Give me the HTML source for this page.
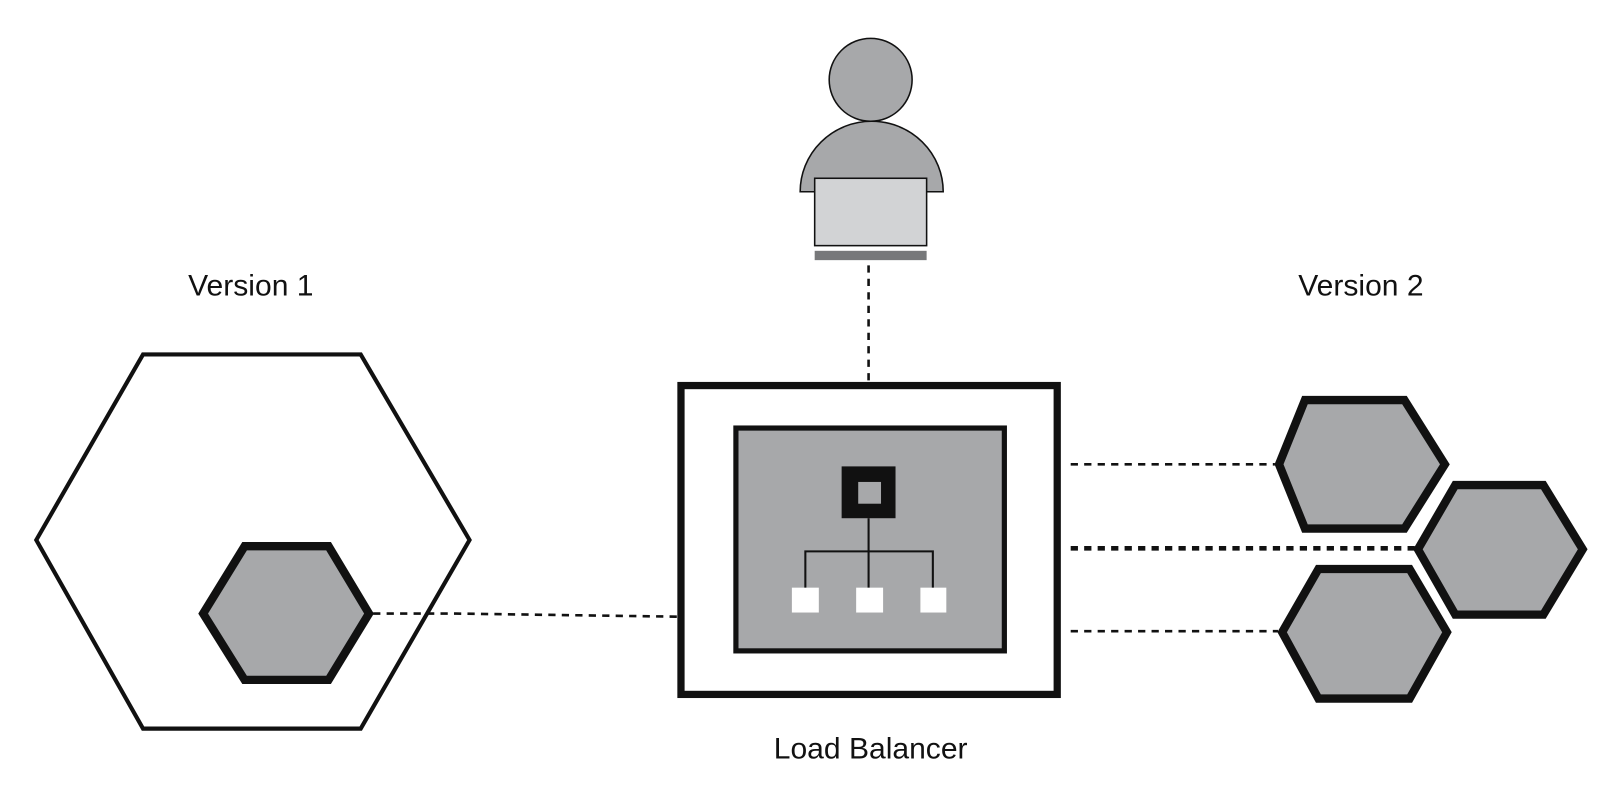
<!DOCTYPE html>
<html><head><style>body{margin:0;background:#fff}</style></head><body>
<svg width="1619" height="805" viewBox="0 0 1562 776.7" preserveAspectRatio="none" xmlns="http://www.w3.org/2000/svg" style="display:block">
<rect width="1562" height="777" fill="#fff"/>
<g font-family="Liberation Sans, sans-serif" font-size="29" fill="#111" text-anchor="middle">
<text x="242" y="285">Version 1</text>
<text x="1313" y="285">Version 2</text>
<text x="840" y="732">Load Balancer</text>
</g>
<!-- person -->
<path d="M772,185 A69,68 0 0 1 910,185 Z" fill="#a7a8aa" stroke="#111" stroke-width="1.5"/>
<circle cx="840" cy="77" r="40" fill="#a7a8aa" stroke="#111" stroke-width="1.5"/>
<rect x="786" y="172" width="108" height="65" fill="#d2d3d5" stroke="#111" stroke-width="1.5"/>
<rect x="786" y="242" width="108" height="9" fill="#77787a"/>
<!-- dashed lines -->
<g stroke="#111" stroke-dasharray="7,6" fill="none">
<line x1="838" y1="256" x2="838" y2="368" stroke-width="2.5"/>
<polyline points="360,592 440,592 655,595" stroke-width="2.5"/>
<line x1="1033" y1="448" x2="1230" y2="448" stroke-width="2.5"/>
<line x1="1033" y1="529" x2="1365" y2="529" stroke-width="4.5"/>
<line x1="1033" y1="609" x2="1233" y2="609" stroke-width="2.5"/>
</g>
<!-- hexes -->
<polygon points="35,521 138,342 348,342 453,521 348,703 138,703" fill="none" stroke="#111" stroke-width="4"/>
<polygon points="196,592 236,527 317,527 356,592 317,656 236,656" fill="#a7a8aa" stroke="#111" stroke-width="8"/>
<polygon points="1234,448 1259,386 1355,386 1394,448 1355,510 1259,510" fill="#a7a8aa" stroke="#111" stroke-width="8"/>
<polygon points="1368,530 1404,468 1489,468 1527,530 1489,593 1404,593" fill="#a7a8aa" stroke="#111" stroke-width="8"/>
<polygon points="1237,610 1272,549 1360,549 1396,610 1360,674 1272,674" fill="#a7a8aa" stroke="#111" stroke-width="8"/>
<!-- load balancer -->
<rect x="657" y="372" width="363" height="298" fill="#fff" stroke="#111" stroke-width="7"/>
<rect x="710" y="413" width="259" height="215" fill="#a7a8aa" stroke="#111" stroke-width="5"/>
<rect x="812" y="450" width="52" height="50" fill="#111"/>
<rect x="828" y="465" width="22" height="21" fill="#a7a8aa"/>
<g stroke="#111" stroke-width="2" fill="none">
<line x1="838" y1="500" x2="838" y2="568"/>
<polyline points="777,568 777,532 900,532 900,568"/>
</g>
<rect x="764" y="567" width="26" height="24" fill="#fff"/>
<rect x="826" y="567" width="26" height="24" fill="#fff"/>
<rect x="888" y="567" width="25" height="24" fill="#fff"/>
</svg>
</body></html>
